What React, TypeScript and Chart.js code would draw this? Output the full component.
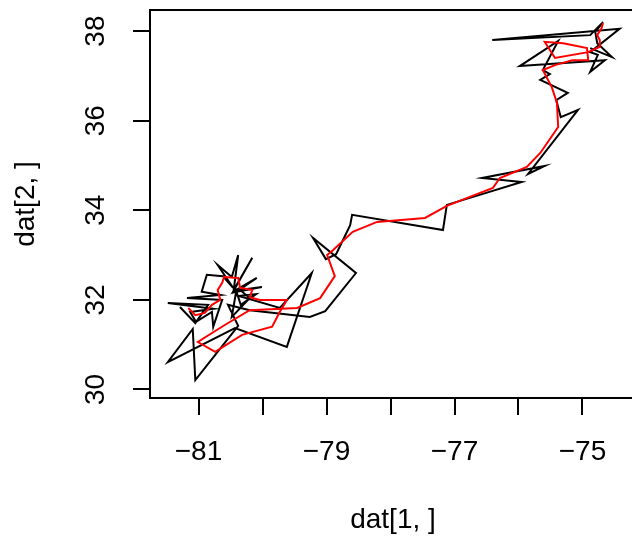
import React, { useEffect, useRef } from 'react';
import { Chart, registerables } from 'chart.js';

Chart.register(...registerables);

// Raw track (black)
const trackX = [
  -81.29, -81.05, -80.85, -81.48, -80.77, -81.13, -81.04, -80.79, -80.77, -80.63,
  -81.18, -80.66, -80.95, -80.87, -80.62, -80.46, -80.70, -80.48, -80.38, -80.45,
  -80.16, -80.46, -80.09, -80.41, -80.01, -80.35, -80.20, -80.48, -80.41, -80.34,
  -80.10, -80.37, -79.73, -79.23, -79.62, -80.43, -81.48, -81.09, -81.05, -80.38,
  -80.54, -80.20, -79.26, -79.02, -78.54, -79.21, -79.01, -78.85, -78.63, -78.60,
  -77.18, -77.12, -75.95, -76.57, -75.59, -75.85, -75.07, -75.34, -75.41, -75.23,
  -75.66, -75.51, -75.62, -75.38, -75.98, -74.65, -74.88, -74.76, -74.88, -74.42,
  -76.41, -74.88, -74.68, -74.80, -74.77, -74.54, -74.88,
];
const trackY = [
  31.84, 31.48, 31.89, 31.93, 31.80, 31.73, 31.51, 31.73, 31.40, 32.00,
  32.04, 32.11, 32.18, 32.56, 32.53, 32.27, 32.78, 32.51, 33.00, 32.22,
  32.94, 32.18, 32.49, 32.18, 32.29, 32.22, 32.04, 31.62, 32.20, 31.89,
  32.13, 32.09, 31.82, 32.60, 30.95, 31.37, 30.61, 31.35, 30.21, 31.42,
  31.89, 31.77, 31.62, 31.75, 32.60, 33.38, 32.91, 33.02, 33.67, 33.90,
  33.56, 34.12, 34.63, 34.72, 34.99, 34.81, 36.24, 36.08, 36.46, 36.62,
  36.91, 37.04, 37.13, 37.78, 37.22, 37.35, 37.09, 37.47, 37.53, 38.05,
  37.80, 37.91, 38.20, 37.98, 37.73, 37.42, 37.62,
];

// Smoothed track (red)
const smoothX = [
  -81.16, -81.05, -80.90, -80.79, -80.66, -80.70, -80.63, -80.60, -80.38, -80.35,
  -80.16, -80.20, -80.04, -79.62, -79.73, -79.85, -80.32, -80.74, -81.01, -80.59,
  -80.20, -79.46, -79.10, -78.87, -78.99, -78.90, -78.59, -78.21, -77.46, -77.12,
  -76.40, -76.29, -75.87, -75.66, -75.38, -75.40, -75.48, -75.62, -75.43, -75.16,
  -74.91, -74.93, -75.30, -75.59, -75.43, -74.91, -74.73, -74.73, -74.77, -74.70,
  -74.68,
];
const smoothY = [
  31.82, 31.66, 31.71, 31.89, 32.00, 32.22, 32.38, 32.51, 32.49, 32.27,
  32.22, 32.06, 32.00, 32.00, 31.73, 31.40, 31.22, 30.84, 31.06, 31.44,
  31.77, 31.82, 32.04, 32.53, 33.00, 33.11, 33.52, 33.74, 33.83, 34.10,
  34.50, 34.72, 34.97, 35.28, 35.86, 36.40, 36.75, 37.13, 37.24, 37.35,
  37.35, 37.62, 37.73, 37.76, 37.40, 37.53, 37.65, 37.80, 37.91, 38.07,
  38.18,
];

const xTickValues = [-81, -80, -79, -78, -77, -76, -75, -74];
const xTickLabels = ['\u221281', '', '\u221279', '', '\u221277', '', '\u221275', ''];
const yTickValues = [30, 32, 34, 36, 38];
const yTickLabels = ['30', '32', '34', '36', '38'];
const xLimits = [-81.758, -74.164];
const yLimits = [29.81, 38.471];

const FONT_FAMILY = '"Liberation Sans", Arial, Helvetica, sans-serif';
const FONT_SIZE = 28;

const rPlotPlugin = {
  id: 'rPlot',
  afterDraw(chart: any) {
    const { ctx, chartArea } = chart;
    ctx.save();
    ctx.strokeStyle = '#000';
    ctx.lineWidth = 2;
    ctx.strokeRect(
      chartArea.left,
      chartArea.top,
      chartArea.right - chartArea.left,
      chartArea.bottom - chartArea.top
    );
    const ys = chart.scales.y;
    ctx.fillStyle = '#000';
    ctx.font = `${FONT_SIZE}px ${FONT_FAMILY}`;
    ctx.textAlign = 'center';
    ctx.textBaseline = 'alphabetic';
    yTickValues.forEach((v, i) => {
      const py = ys.getPixelForValue(v);
      ctx.save();
      ctx.translate(104, py);
      ctx.rotate(-Math.PI / 2);
      ctx.fillText(yTickLabels[i], 0, 0);
      ctx.restore();
    });
    ctx.restore();
  },
};

export default function App() {
  const canvasRef = useRef<HTMLCanvasElement | null>(null);

  useEffect(() => {
    if (!canvasRef.current) return;
    const track = trackX.map((x, i) => ({ x, y: trackY[i] }));
    const smooth = smoothX.map((x, i) => ({ x, y: smoothY[i] }));
    const chart = new Chart(canvasRef.current, {
      type: 'scatter',
      data: {
        datasets: [
          {
            label: 'smooth',
            data: smooth,
            showLine: true,
            borderColor: '#FF0000',
            backgroundColor: '#FF0000',
            borderWidth: 2,
            pointRadius: 0,
            tension: 0,
          },
          {
            label: 'track',
            data: track,
            showLine: true,
            borderColor: '#000000',
            backgroundColor: '#000000',
            borderWidth: 2,
            pointRadius: 0,
            tension: 0,
          },
        ],
      },
      options: {
        animation: false,
        responsive: false,
        maintainAspectRatio: false,
        layout: { padding: { top: 10, right: 14, left: 0, bottom: 0 } },
        plugins: {
          legend: { display: false },
          tooltip: { enabled: false },
        },
        scales: {
          x: {
            type: 'linear',
            min: xLimits[0],
            max: xLimits[1],
            afterBuildTicks: (s: any) => {
              s.ticks = xTickValues.map((v) => ({ value: v }));
            },
            afterFit: (s: any) => {
              s.height = 139;
              s.paddingLeft = 0;
              s.paddingRight = 0;
            },
            border: { display: false },
            grid: {
              drawOnChartArea: false,
              drawTicks: true,
              tickLength: 17,
              tickWidth: 2,
              tickColor: '#000',
              lineWidth: 2,
              color: '#000',
            },
            ticks: {
              autoSkip: false,
              maxRotation: 0,
              minRotation: 0,
              padding: 20,
              color: '#000',
              font: { family: FONT_FAMILY, size: FONT_SIZE },
              callback: (value: any) => {
                const idx = xTickValues.indexOf(Number(value));
                return idx >= 0 ? xTickLabels[idx] : '';
              },
            },
            title: {
              display: true,
              text: 'dat[1, ]',
              color: '#000',
              font: { family: FONT_FAMILY, size: FONT_SIZE },
              padding: { top: 0, bottom: 0 },
            },
          },
          y: {
            type: 'linear',
            min: yLimits[0],
            max: yLimits[1],
            afterBuildTicks: (s: any) => {
              s.ticks = yTickValues.map((v) => ({ value: v }));
            },
            afterFit: (s: any) => {
              s.width = 150;
              s.paddingTop = 0;
              s.paddingBottom = 0;
            },
            border: { display: false },
            grid: {
              drawOnChartArea: false,
              drawTicks: true,
              tickLength: 17,
              tickWidth: 2,
              tickColor: '#000',
              lineWidth: 2,
              color: '#000',
            },
            ticks: { display: false },
            title: {
              display: true,
              text: 'dat[2, ]',
              color: '#000',
              font: { family: FONT_FAMILY, size: FONT_SIZE },
              padding: { top: 9, bottom: 0 },
            },
          },
        },
      },
      plugins: [rPlotPlugin],
    });
    return () => chart.destroy();
  }, []);

  return (
    <div
      style={{
        position: 'absolute',
        left: 0,
        top: 0,
        width: 632,
        height: 537,
        overflow: 'hidden',
        background: '#fff',
      }}
    >
      <canvas ref={canvasRef} width={650} height={537} style={{ display: 'block' }} />
    </div>
  );
}
